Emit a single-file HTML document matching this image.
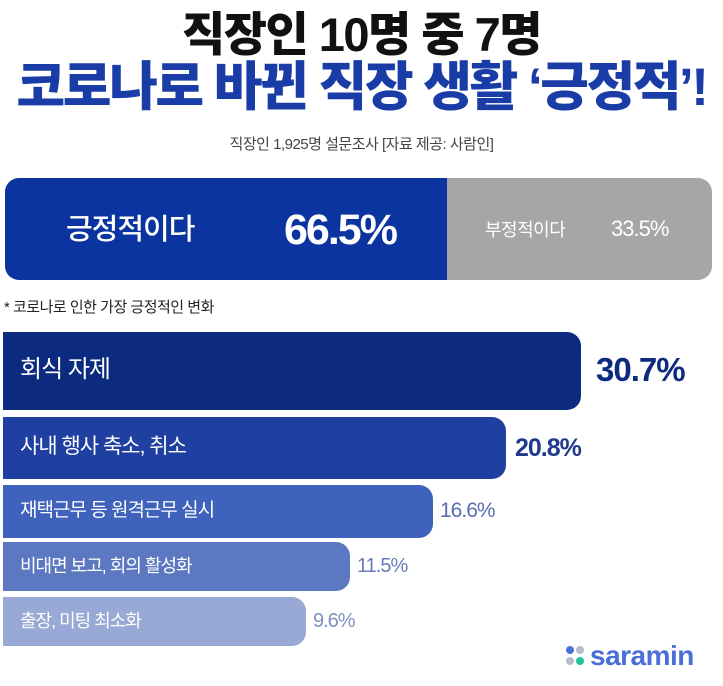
<!DOCTYPE html>
<html><head><meta charset="utf-8"><style>
body{margin:0;width:723px;height:686px;background:#fff;position:relative;overflow:hidden;font-family:"Liberation Sans","Noto Sans CJK KR",sans-serif}
.a{position:absolute;white-space:nowrap}
.t1{left:0;width:723px;text-align:center;top:7px;font-size:47px;font-weight:900;color:#111;letter-spacing:-1.5px;line-height:56px}
.t2{left:0;width:723px;text-align:center;top:57px;font-size:53px;font-weight:900;color:#1a3ca6;letter-spacing:-2.5px;line-height:62px}
.sub{left:0;width:723px;text-align:center;top:133px;font-size:15px;color:#444;letter-spacing:-0.5px;line-height:24px}
.bar{position:absolute;left:3px;border-radius:0 14px 14px 0}
.lbl{position:absolute;color:#fff;letter-spacing:-1px}
.val{position:absolute;font-weight:700;letter-spacing:-1px}
</style></head><body>
<div class="a t1">직장인 10명 중 7명</div>
<div class="a t2">코로나로 바뀐 직장 생활 ‘긍정적’!</div>
<div class="a sub">직장인 1,925명 설문조사 [자료 제공: 사람인]</div>

<div style="position:absolute;left:5px;top:178px;width:707px;height:102px;border-radius:14px;overflow:hidden;background:#a6a6a6">
<div style="position:absolute;left:0;top:0;width:442px;height:102px;background:#0b34a0"></div>
</div>
<div class="a" style="left:66px;top:208px;font-size:29px;color:#fff;font-weight:500;letter-spacing:-1px;line-height:44px">긍정적이다</div>
<div class="a" style="left:284px;top:204px;font-size:43px;color:#fff;font-weight:700;letter-spacing:-2px;line-height:52px">66.5%</div>
<div class="a" style="left:485px;top:216px;font-size:18px;color:#fff;letter-spacing:-0.5px;line-height:28px">부정적이다</div>
<div class="a" style="left:611px;top:214px;font-size:22px;color:#fff;letter-spacing:-1px;line-height:30px">33.5%</div>

<div class="a" style="left:4px;top:296px;font-size:15px;color:#222;letter-spacing:-0.5px;line-height:24px">* 코로나로 인한 가장 긍정적인 변화</div>

<div class="bar" style="top:332px;width:578px;height:78px;background:#0d2b7e;border-radius:0 14px 14px 0"></div>
<div class="lbl" style="left:20px;top:352px;font-size:24px;line-height:36px">회식 자제</div>
<div class="val" style="left:596px;top:350px;font-size:33px;color:#0d2b7e;line-height:40px">30.7%</div>

<div class="bar" style="top:417px;width:503px;height:62px;background:#1f40a0"></div>
<div class="lbl" style="left:20px;top:431px;font-size:21px;line-height:32px">사내 행사 축소, 취소</div>
<div class="val" style="left:515px;top:432px;font-size:25px;color:#1f3a8f;line-height:32px">20.8%</div>

<div class="bar" style="top:485px;width:430px;height:53px;background:#3f62bd"></div>
<div class="lbl" style="left:20px;top:496px;font-size:19px;line-height:30px">재택근무 등 원격근무 실시</div>
<div class="a" style="left:440px;top:496px;font-size:21px;color:#5a6db0;letter-spacing:-1px;line-height:30px">16.6%</div>

<div class="bar" style="top:542px;width:347px;height:49px;background:#5b78c0"></div>
<div class="lbl" style="left:20px;top:552px;font-size:18px;line-height:28px">비대면 보고, 회의 활성화</div>
<div class="a" style="left:357px;top:552px;font-size:20px;color:#6a7cb8;letter-spacing:-1px;line-height:28px">11.5%</div>

<div class="bar" style="top:597px;width:303px;height:49px;background:#97a9d4"></div>
<div class="lbl" style="left:20px;top:607px;font-size:18px;line-height:28px">출장, 미팅 최소화</div>
<div class="a" style="left:313px;top:607px;font-size:20px;color:#7f8fc2;letter-spacing:-1px;line-height:28px">9.6%</div>

<svg class="a" style="left:565px;top:644px" width="20" height="24">
<circle cx="5" cy="6" r="4" fill="#4a6fd8"/><circle cx="15" cy="6" r="4" fill="#b7bfcc"/>
<circle cx="5" cy="17" r="4" fill="#b7bfcc"/><circle cx="15" cy="17" r="4" fill="#1fc39a"/>
</svg>
<div class="a" style="left:590px;top:638px;font-size:28px;font-weight:700;color:#4a6fd8;letter-spacing:-0.5px;line-height:36px">saramin</div>
</body></html>
